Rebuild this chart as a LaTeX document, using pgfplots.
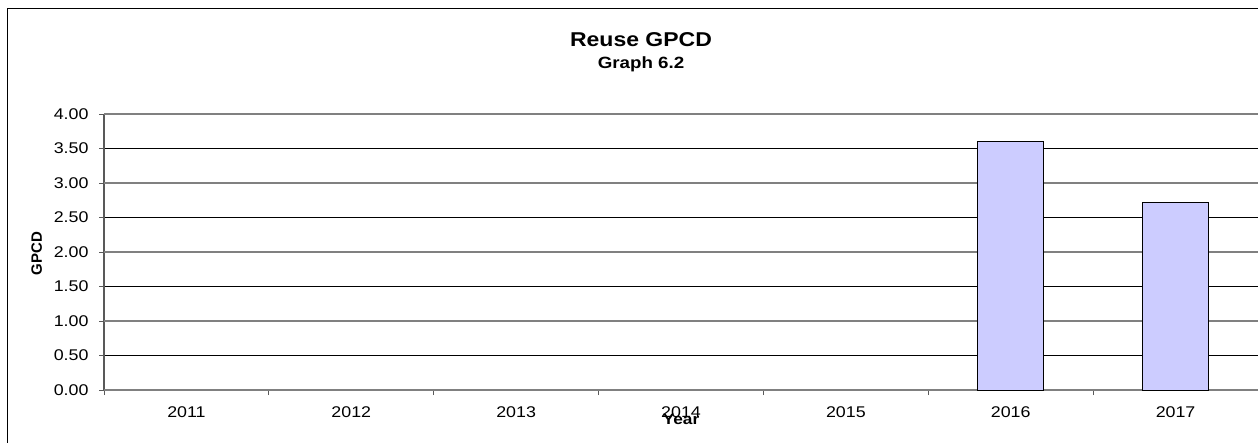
\documentclass[border=0pt]{standalone}
\usepackage{pgfplots}
\pgfplotsset{compat=1.18}
\usepackage{fontspec}
\setmainfont[FakeStretch=1.15]{Liberation Sans}
\newfontfamily\plainfont{Liberation Sans}
\definecolor{barfill}{HTML}{CCCCFF}
\begin{document}
\begin{tikzpicture}
\useasboundingbox (0,0) rectangle (1258pt,442pt);
\draw[line width=1pt, black] (7pt,-10pt) -- (7pt,433pt) -- (1270pt,433pt);
\node[anchor=base, font=\fontsize{20}{24}\selectfont\bfseries] at (641pt,395pt) {Reuse GPCD};
\node[anchor=base, font=\fontsize{16.3}{19}\selectfont\bfseries] at (641pt,373.5pt) {Graph 6.2};
\node[rotate=90, anchor=center, font=\plainfont\fontsize{15}{18}\selectfont\bfseries] at (36.7pt,188.2pt) {GPCD};
\begin{axis}[
  at={(104pt,52pt)}, anchor=south west, scale only axis,
  width=1154pt, height=276pt,
  xmin=-0.5, xmax=6.5, ymin=0, ymax=4,
  axis lines*=left,
  axis line style={draw=black!65, line width=1.3pt},
  tick align=outside, major tick length=5pt,
  tick style={draw=black!65, line width=1pt},
  ytick={0.5,1.5,2.5,3.5},
  extra y ticks={0,1,2,3,4},
  ymajorgrids,
  major grid style={black, line width=0.8pt},
  extra y tick style={major grid style={black!50, line width=1.3pt}},
  /pgf/number format/assume math mode=true,
  /pgf/number format/fixed,
  /pgf/number format/fixed zerofill,
  /pgf/number format/precision=2,
  ticklabel style={font=\fontsize{15.5}{18}\selectfont},
  y tick label style={xshift=-7pt},
  xtick={-0.5,0.5,1.5,2.5,3.5,4.5,5.5},
  xticklabels={2011,2012,2013,2014,2015,2016,2017},
  x tick label style={xshift=82.43pt, yshift=-8pt},
  extra x ticks={6.5}, extra x tick labels={},
  xlabel={Year},
  xlabel style={at={(rel axis cs:0.5,0)}, anchor=center, yshift=-29pt, font=\fontsize{15}{18}\selectfont\bfseries},
  clip=false,
]
\addplot[ybar, bar width=66pt, bar shift=0pt, fill=barfill, draw=black, line width=1pt]
  coordinates {(5,3.60) (6,2.72)};
\end{axis}
\end{tikzpicture}
\end{document}
